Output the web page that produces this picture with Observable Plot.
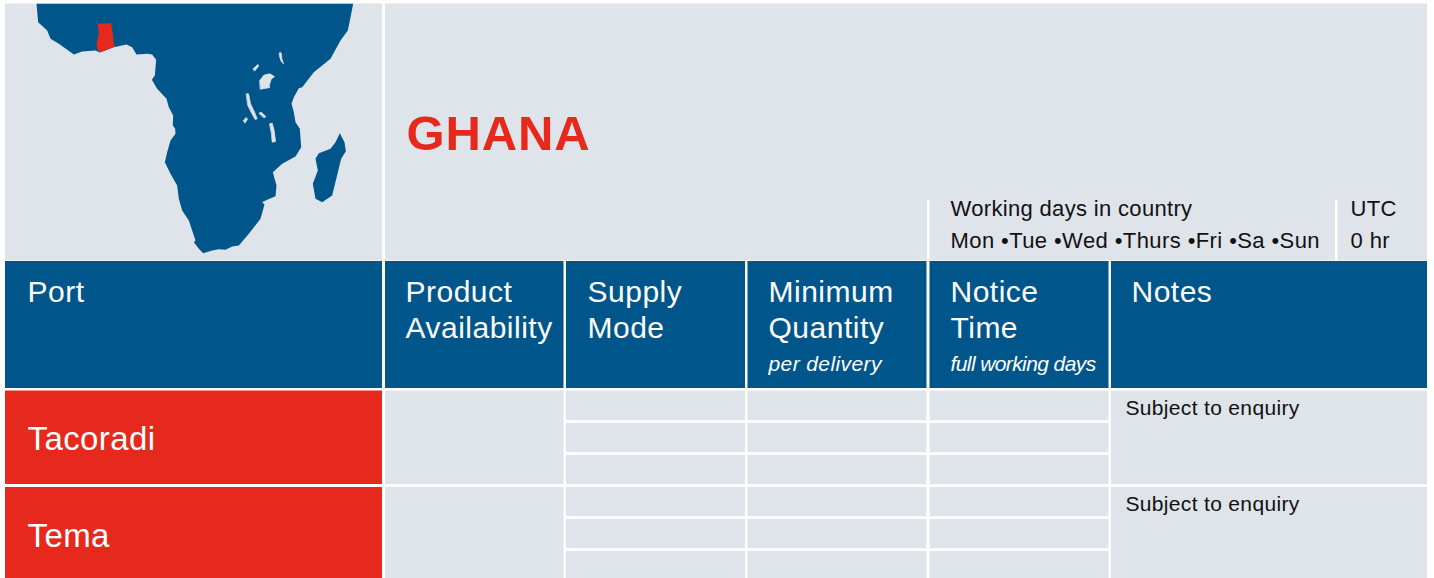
<!DOCTYPE html>
<html>
<head>
<meta charset="utf-8">
<script src="https://cdn.jsdelivr.net/npm/d3@7"></script>
<script src="https://cdn.jsdelivr.net/npm/@observablehq/plot@0.6"></script>
<style>
html,body{margin:0;padding:0;background:#fff}
svg{display:block}
</style>
</head>
<body>
<div id="chart"></div>
<script>
// ---- content
const country = "GHANA";
const columns = ["Port", "Product", "Supply", "Minimum", "Notice", "Notes"];
const columnSecondLine = ["", "Availability", "Mode", "Quantity", "Time", ""];
const columnUnits = ["", "", "", "per delivery", "full working days", ""];
const ports = ["Tacoradi", "Tema"];
const portNotes = ["Subject to enquiry", "Subject to enquiry"];
const days = ["Mon", "Tue", "Wed", "Thurs", "Fri", "Sa", "Sun"];
const infoTitles = ["Working days in country", "UTC"];
const infoValues = [days.join(" \u2022"), "0 hr"];

// ---- map outlines on a 3x grid
const africa = [[108,10],[113,65],[140,90],[150,115],[175,130],[220,162],[245,153],[285,150],[298,156],[340,140],[378,132],[395,140],[408,162],[440,160],[455,162],[467,178],[463,225],[454,238],[470,265],[498,295],[505,320],[518,345],[517,375],[524,385],[525,400],[510,420],[500,455],[493,485],[510,520],[530,555],[535,595],[545,630],[565,660],[585,720],[580,725],[595,745],[608,758],[635,750],[655,746],[675,748],[695,738],[715,735],[745,700],[780,655],[792,612],[785,605],[800,598],[825,587],[828,555],[817,515],[845,490],[885,468],[902,440],[898,385],[885,365],[880,335],[873,310],[880,290],[895,263],[905,260],[940,215],[990,175],[1020,120],[1042,90],[1050,50],[1058,10]];
const madagascar = [[1018,398],[1032,425],[1036,452],[1022,475],[995,585],[965,605],[945,595],[937,550],[952,510],[945,475],[955,458],[990,445],[1005,425]];
const ghana = [[292,70],[332,68],[337,100],[340,130],[343,138],[300,155],[292,150],[288,130],[295,100]];
const lakes = [
  [[778,240],[790,224],[808,220],[822,228],[812,236],[806,256],[808,261],[780,266]],
  [[837,157],[842,157],[844,175],[849,190],[842,182],[838,170]],
  [[758,205],[772,192],[775,196],[763,211]],
  [[738,280],[744,280],[750,310],[762,335],[770,355],[764,357],[752,335],[742,315]],
  [[776,338],[782,335],[796,348],[792,352]],
  [[729,360],[737,351],[741,356],[734,367]],
  [[808,370],[815,368],[821,390],[825,423],[815,425],[813,400]]
];

// ---- layout (picture units), kept apart from the content
const W = 1434, H = 578;
const colX = [[5,382],[385,563.5],[566,745],[747.5,926.5],[929.5,1108.5],[1111,1427]];
const textX = [27,405,587,768,950,1131];
const panelY = [3.5,260.5], headY = [261,388], rowY = [[390.5,484],[487,578]];
const subY = [[[390.5,420],[423,452],[455,484]],[[487,516],[519,548],[551,578]]];
const dividers = [[927,929.5],[1335,1337.5]], dividerY = [200,261];
const navy = "#00568a", red = "#e7281d", grey = "#dfe3ea", ink = "#111";
const font = "'Liberation Sans', Arial, sans-serif";
const mapScale = 1/3;

const cell = (x, y, fill) => ({x1:x[0], x2:x[1], y1:y[0], y2:y[1], fill});
const cells = [
  cell(colX[0], panelY, grey),
  cell([colX[1][0], colX[5][1]], panelY, grey),
  ...colX.map(x => cell(x, headY, navy)),
];
dividers.forEach(d => cells.push(cell(d, dividerY, "#ffffff")));
ports.forEach((p, r) => {
  cells.push(cell(colX[0], rowY[r], red));
  cells.push(cell(colX[1], rowY[r], grey));
  cells.push(cell(colX[5], rowY[r], grey));
  [2,3,4].forEach(c => subY[r].forEach(y => cells.push(cell(colX[c], y, grey))));
});

const shape = (pts, fill, stroke="none") => Plot.line(pts, {
  x: d => d[0]*mapScale, y: d => d[1]*mapScale, fill, stroke, strokeWidth: 0.8, curve: "linear-closed"
});

// every text group carries its own tracking, applied after the plot renders
const tracking = [];
const label = (rows, fontSize, fill, spacing, extra={}) => {
  tracking.push(spacing);
  return Plot.text(rows, {
    x: "x", y: "y", text: "t", textAnchor: "start", lineAnchor: "bottom",
    fontSize, fill, fontFamily: font, ...extra
  });
};

const infoX = [950, 1350];
const textMarks = [
  label([{x:406, y:149, t:country}], 49, red, 0.9, {fontWeight:"bold"}),
  label(columns.map((t,i)=>({x:textX[i], y:301, t})), 30, "#fff", 0.5),
  label(columnSecondLine.map((t,i)=>({x:textX[i], y:337, t})).filter(d=>d.t), 30, "#fff", 0.5),
  label([{x:textX[3], y:370, t:columnUnits[3]}], 21, "#fff", 0.4, {fontStyle:"italic"}),
  label([{x:textX[4], y:370, t:columnUnits[4]}], 21, "#fff", -0.6, {fontStyle:"italic"}),
  label(ports.map((t,i)=>({x:27, y:[449,546][i], t})), 33, "#fff", 0.4),
  label(portNotes.map((t,i)=>({x:1125, y:[414,510][i], t})), 21, ink, 0.33),
  label(infoTitles.map((t,i)=>({x:infoX[i], y:215, t})), 22, ink, 0.33),
  label(infoValues.map((t,i)=>({x:infoX[i], y:247, t})), 22, ink, 0.41)
];

const chart = Plot.plot({
  width: W, height: H,
  marginTop: 0, marginRight: 0, marginBottom: 0, marginLeft: 0,
  x: {domain: [0, W], range: [0, W], axis: null},
  y: {domain: [0, H], range: [0, H], axis: null},
  style: {background: "#fff", fontFamily: font},
  marks: [
    Plot.rect(cells, {x1:"x1", x2:"x2", y1:"y1", y2:"y2", fill:"fill"}),
    shape(africa, navy),
    shape(madagascar, navy),
    shape(ghana, red),
    ...lakes.map(l => shape(l, grey, grey)),
    ...textMarks
  ]
});
d3.select(chart).selectAll('g[aria-label="text"]').each(function(_, i) {
  this.style.letterSpacing = tracking[i] + "px";
});
document.getElementById("chart").appendChild(chart);
</script>
</body>
</html>
